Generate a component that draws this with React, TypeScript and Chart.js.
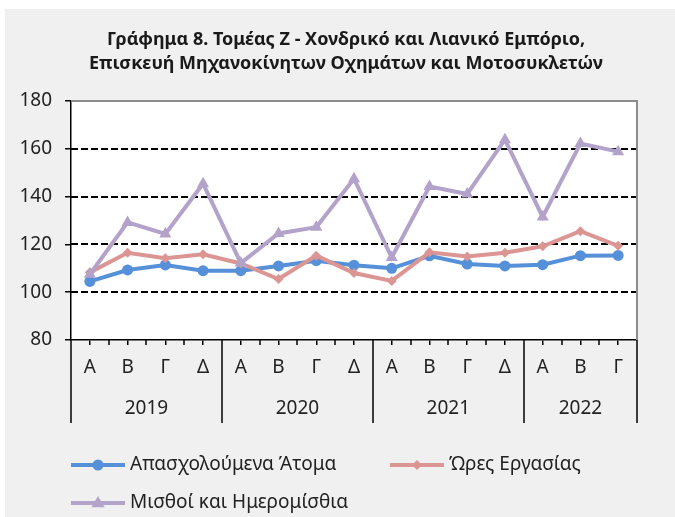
import React, { useEffect, useRef } from 'react';
import { Chart, registerables } from 'chart.js';

Chart.register(...registerables);

const quarters = ['Α', 'Β', 'Γ', 'Δ', 'Α', 'Β', 'Γ', 'Δ', 'Α', 'Β', 'Γ', 'Δ', 'Α', 'Β', 'Γ'];
const years = ['2019', '2020', '2021', '2022'];
const quartersPerYear = [4, 4, 4, 3];

const employed = [104.5, 109.3, 111.4, 109.0, 109.0, 111.0, 113.2, 111.3, 110.0, 115.2, 111.8, 111.0, 111.5, 115.3, 115.4];
const hours = [108.3, 116.5, 114.2, 115.9, 112.0, 105.5, 115.3, 108.0, 104.7, 116.7, 114.9, 116.5, 119.2, 125.5, 119.4];
const wages = [107.5, 129.2, 124.4, 145.4, 112.2, 124.6, 127.2, 147.5, 114.5, 144.2, 141.1, 163.8, 131.5, 162.2, 158.8];

const seriesNames = ['Απασχολούμενα Άτομα', 'Ώρες Εργασίας', 'Μισθοί και Ημερομίσθια'];
const titleLines = [
  'Γράφημα 8. Τομέας Ζ - Χονδρικό και Λιανικό Εμπόριο,',
  'Επισκευή Μηχανοκίνητων Οχημάτων και Μοτοσυκλετών',
];
const yMin = 80;
const yMax = 180;
const yStep = 20;

const COLORS = ['#5590d8', '#db9592', '#b3a2c9'];
const STYLES = ['circle', 'rectRot', 'triangle'];
const FONT = "'Noto Sans', sans-serif";
const TEXT = '#222222';
const FS = 19;

function drawMarker(ctx: CanvasRenderingContext2D, style: string, x: number, y: number, r: number, color: string) {
  ctx.save();
  ctx.fillStyle = color;
  ctx.beginPath();
  if (style === 'circle') {
    ctx.arc(x, y, r, 0, Math.PI * 2);
  } else if (style === 'rectRot') {
    ctx.moveTo(x, y - r);
    ctx.lineTo(x + r, y);
    ctx.lineTo(x, y + r);
    ctx.lineTo(x - r, y);
    ctx.closePath();
  } else {
    ctx.moveTo(x, y - r);
    ctx.lineTo(x + r * 0.95, y + r * 0.6);
    ctx.lineTo(x - r * 0.95, y + r * 0.6);
    ctx.closePath();
  }
  ctx.fill();
  ctx.restore();
}

const framePlugin = {
  id: 'frame',
  beforeDraw(chart: any) {
    const { ctx, chartArea: a } = chart;
    ctx.save();
    ctx.fillStyle = '#ffffff';
    ctx.fillRect(0, 0, chart.width, chart.height);
    ctx.fillStyle = '#f0f0f0';
    ctx.fillRect(5, 9, chart.width - 5, chart.height - 9);
    ctx.fillStyle = '#ffffff';
    ctx.fillRect(a.left, a.top, a.right - a.left, a.bottom - a.top);
    ctx.restore();
  },
  beforeDatasetsDraw(chart: any) {
    const { ctx, chartArea: a } = chart;
    const y = chart.scales.y;
    ctx.save();
    ctx.strokeStyle = '#000000';
    ctx.lineWidth = 2;
    ctx.setLineDash([7, 3]);
    for (let v = yMin + yStep; v < yMax; v += yStep) {
      const py = Math.round(y.getPixelForValue(v));
      ctx.beginPath();
      ctx.moveTo(a.left, py);
      ctx.lineTo(a.right, py);
      ctx.stroke();
    }
    ctx.setLineDash([]);
    ctx.strokeStyle = '#8c8c8c';
    ctx.lineWidth = 2;
    ctx.beginPath();
    ctx.moveTo(a.left, a.top);
    ctx.lineTo(a.right, a.top);
    ctx.lineTo(a.right, a.bottom);
    ctx.stroke();
    ctx.restore();
  },
  afterDraw(chart: any) {
    const { ctx, chartArea: a } = chart;
    const x = chart.scales.x;
    ctx.save();
    ctx.strokeStyle = '#000000';
    ctx.lineWidth = 1.5;
    const yearStarts: number[] = [];
    let s = 0;
    for (const c of quartersPerYear) {
      yearStarts.push(s);
      s += c;
    }
    for (let i = 0; i <= quarters.length; i++) {
      const bx = Math.round(x.getPixelForValue(i - 0.5));
      const isYear = yearStarts.includes(i) || i === quarters.length;
      ctx.beginPath();
      ctx.moveTo(bx, a.bottom);
      ctx.lineTo(bx, isYear ? 423 : a.bottom + 5);
      ctx.stroke();
    }
    ctx.fillStyle = TEXT;
    ctx.font = `${FS}px ${FONT}`;
    ctx.textAlign = 'center';
    ctx.textBaseline = 'middle';
    years.forEach((yr, k) => {
      const cx = x.getPixelForValue(yearStarts[k] + (quartersPerYear[k] - 1) / 2);
      ctx.fillText(yr, cx, 409);
    });
    ctx.font = `bold 18px ${FONT}`;
    ctx.fillStyle = '#1a1a1a';
    ctx.fillText(titleLines[0], 346, 40);
    ctx.fillText(titleLines[1], 346, 64);
    ctx.textAlign = 'left';
    ctx.font = `${FS}px ${FONT}`;
    const colX = [71, 390];
    const rowY = [465, 503];
    chart.data.datasets.forEach((ds: any, i: number) => {
      const x0 = colX[i % 2];
      const ly = rowY[Math.floor(i / 2)];
      ctx.strokeStyle = ds.borderColor;
      ctx.lineWidth = 4;
      ctx.beginPath();
      ctx.moveTo(x0, ly);
      ctx.lineTo(x0 + 54, ly);
      ctx.stroke();
      drawMarker(ctx, ds.pointStyle, x0 + 27, ly, ds.pointRadius, ds.borderColor);
      ctx.fillStyle = TEXT;
      ctx.fillText(ds.label, x0 + 59, ly);
    });
    ctx.restore();
  },
};

export default function App() {
  const ref = useRef<HTMLCanvasElement>(null);
  useEffect(() => {
    document.body.style.margin = '0';
    const canvas = ref.current;
    if (!canvas) return;
    const seriesData = [employed, hours, wages];
    const radii = [5.5, 5, 7];
    const chart = new Chart(canvas, {
      type: 'line',
      data: {
        labels: quarters,
        datasets: seriesData.map((d, i) => ({
          label: seriesNames[i],
          data: d,
          borderColor: COLORS[i],
          backgroundColor: COLORS[i],
          pointBackgroundColor: COLORS[i],
          pointBorderColor: COLORS[i],
          borderWidth: 4,
          pointStyle: STYLES[i] as any,
          pointRadius: radii[i],
          pointBorderWidth: 0,
          tension: 0,
          order: 2 - i,
        })),
      },
      options: {
        responsive: false,
        animation: false,
        devicePixelRatio: 1,
        layout: { padding: { top: 101, left: 0, right: 38, bottom: 0 } },
        plugins: {
          legend: { display: false },
          title: { display: false },
          tooltip: { enabled: false },
        },
        scales: {
          x: {
            type: 'category',
            offset: true,
            grid: { display: true, drawOnChartArea: false, offset: false, tickLength: 5, color: '#000000', lineWidth: 1.5 },
            border: { display: true, color: '#000000', width: 1.5 },
            ticks: { font: { family: FONT, size: FS }, color: TEXT, padding: 11, maxRotation: 0, autoSkip: false },
            afterFit(scale: any) {
              scale.height = 177;
            },
          },
          y: {
            min: yMin,
            max: yMax,
            grid: { display: true, drawOnChartArea: false, tickLength: 6, color: '#000000', lineWidth: 1.5 },
            border: { display: true, color: '#000000', width: 1.5 },
            ticks: { stepSize: yStep, font: { family: FONT, size: FS }, color: TEXT, padding: 13 },
            afterFit(scale: any) {
              scale.width = 71;
            },
          },
        },
      },
      plugins: [framePlugin],
    });
    return () => chart.destroy();
  }, []);
  return (
    <div style={{ width: 675, height: 517 }}>
      <canvas ref={ref} width={675} height={517} style={{ display: 'block' }} />
    </div>
  );
}
